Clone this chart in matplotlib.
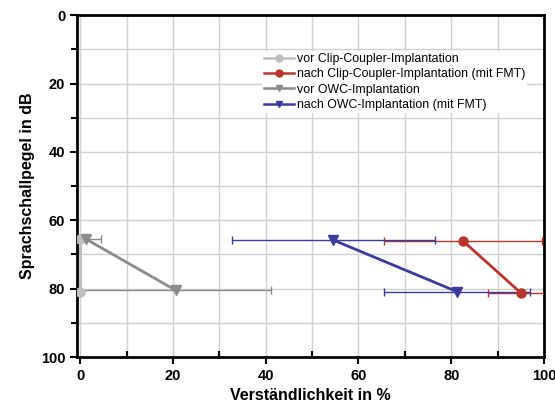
import matplotlib
matplotlib.use("Agg")
import matplotlib.pyplot as plt
from matplotlib.ticker import MultipleLocator

plt.rcParams['font.family'] = ['Liberation Sans', 'DejaVu Sans']

# Data (x: Verständlichkeit in %, y: Sprachschallpegel in dB)
clip_vor_x = [0, 0]
clip_vor_y = [65.5, 81]
clip_vor_err = [0, 0]

clip_nach_x = [82.5, 95.0]
clip_nach_y = [66, 81.2]
clip_nach_err = [17, 7]

owc_vor_x = [1.2, 20.6]
owc_vor_y = [65.5, 80.5]
owc_vor_err = [3.3, 20.6]

owc_nach_x = [54.6, 81.3]
owc_nach_y = [65.8, 80.9]
owc_nach_err = [21.8, 15.7]

labels = ["vor Clip-Coupler-Implantation",
          "nach Clip-Coupler-Implantation (mit FMT)",
          "vor OWC-Implantation",
          "nach OWC-Implantation (mit FMT)"]

c_lgray = "#bdbdbd"
c_red = "#b8342c"
c_gray = "#8a8a8a"
c_blue = "#3b3b9e"

fig = plt.figure(figsize=(5.55, 4.09), dpi=100)
ax = fig.add_axes([0.139, 0.127, 0.841, 0.836])

series = [
    (clip_vor_x, clip_vor_y, clip_vor_err, c_lgray, 'o'),
    (clip_nach_x, clip_nach_y, clip_nach_err, c_red, 'o'),
    (owc_vor_x, owc_vor_y, owc_vor_err, c_gray, 'v'),
    (owc_nach_x, owc_nach_y, owc_nach_err, c_blue, 'v'),
]
handles = []
for (x, y, e, c, m), lab in zip(series, labels):
    ax.errorbar(x, y, xerr=e, fmt='none', ecolor=c, elinewidth=1.0,
                capsize=3, capthick=1.0, zorder=3, clip_on=True)
    h, = ax.plot(x, y, color=c, lw=2.0, marker=m, markersize=6.5, zorder=4,
                 label=lab)
    handles.append(h)

ax.set_xlim(-0.7, 100)
ax.set_ylim(100, 0)
ax.xaxis.set_major_locator(MultipleLocator(20))
ax.xaxis.set_minor_locator(MultipleLocator(10))
ax.yaxis.set_major_locator(MultipleLocator(20))
ax.yaxis.set_minor_locator(MultipleLocator(10))
ax.grid(True, which='both', color='#d0d0d0', lw=1.0, zorder=0)
ax.set_axisbelow(True)

for s in ax.spines.values():
    s.set_linewidth(2.0)
ax.tick_params(axis='both', which='major', direction='out', length=5, width=1.5,
               labelsize=10.5)
ax.tick_params(axis='x', which='minor', direction='in', length=4, width=1.5)
ax.tick_params(axis='y', which='minor', direction='out', length=4, width=1.5)
for lab in ax.get_xticklabels() + ax.get_yticklabels():
    lab.set_fontweight('bold')

ax.set_xlabel("Verständlichkeit in %", fontsize=11.5, fontweight='bold')
ax.set_ylabel("Sprachschallpegel in dB", fontsize=11.5, fontweight='bold')

leg = ax.legend(handles=handles, loc='upper left', bbox_to_anchor=(0.396, 0.895),
                fontsize=8.9, frameon=True, fancybox=False, handlelength=2.4,
                handletextpad=0.3, labelspacing=0.28, borderpad=0.15,
                borderaxespad=0)
leg.get_frame().set_edgecolor('none')
leg.get_frame().set_facecolor('white')
leg.get_frame().set_alpha(1)
for h in leg.legend_handles:
    h.set_markersize(5)
    h.set_linewidth(1.8)

fig.savefig("out.png", dpi=100)
